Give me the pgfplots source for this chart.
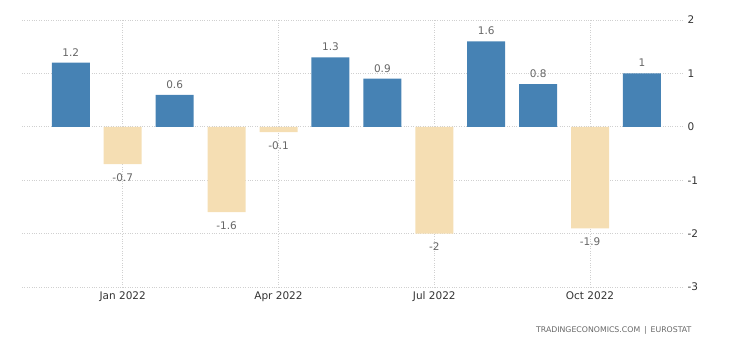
\documentclass[border=0pt]{standalone}
\usepackage{pgfplots}
\pgfplotsset{compat=1.18}
\usepackage{fontspec}
\setmainfont{DejaVu Sans}
\definecolor{barblue}{HTML}{4682B4}
\definecolor{barneg}{HTML}{F5DEB3}
\definecolor{lblgray}{HTML}{666666}
\definecolor{tickdark}{HTML}{333333}
\definecolor{gridc}{HTML}{D0D0D0}
\begin{document}
\begin{tikzpicture}[x=1pt,y=1pt]
\path (0,0) rectangle (740,345);
\begin{axis}[
  at={(22pt,58pt)}, anchor=south west,
  scale only axis, width=661pt, height=267pt,
  xmin=-0.94, xmax=11.79, ymin=-3, ymax=2,
  axis line style={draw=none},
  major tick length=0pt,
  xtick={1,4,7,10},
  xticklabels={Jan 2022,Apr 2022,Jul 2022,Oct 2022},
  ytick={-3,-2,-1,0,1,2},
  yticklabel pos=right,
  grid=major,
  major grid style={gridc, dotted, line width=0.7pt},
  tick label style={font=\fontsize{10.5}{12}\selectfont, text=tickdark},
  /pgf/number format/assume math mode=true,
  ybar, bar width=38pt,
  xticklabel style={yshift=-1pt},
  yticklabel style={xshift=1pt},
  nodes near coords,
  nodes near coords style={font=\fontsize{10.5}{12}\selectfont, text=lblgray},
  clip=false,
]
\addplot[fill=barblue, draw=none, bar shift=0pt,
  nodes near coords style={anchor=south, yshift=3pt}]
  coordinates {(0,1.2) (2,0.6) (5,1.3) (6,0.9) (8,1.6) (9,0.8) (11,1)};
\addplot[fill=barneg, draw=none, bar shift=0pt,
  nodes near coords style={anchor=north, yshift=-6pt}]
  coordinates {(1,-0.7) (3,-1.6) (4,-0.1) (7,-2) (10,-1.9)};
\end{axis}
\node[anchor=east, font=\fontsize{7.8}{9}\selectfont, text=lblgray] at (695,15) {TRADINGECONOMICS.COM\enspace|\enspace EUROSTAT};
\end{tikzpicture}
\end{document}
